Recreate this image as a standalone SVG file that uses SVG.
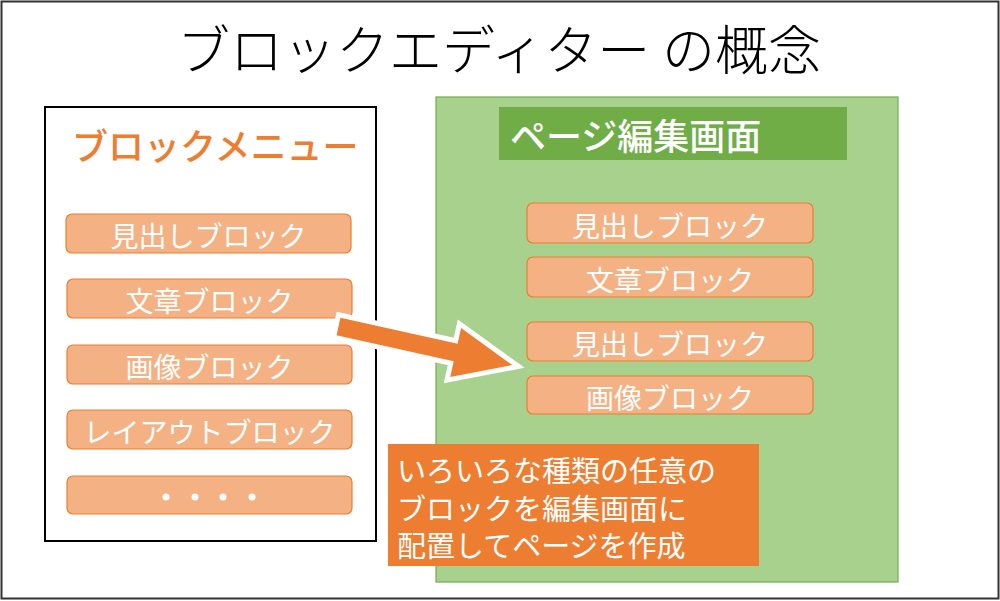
<svg xmlns="http://www.w3.org/2000/svg" width="1000" height="601" viewBox="0 0 1000 601">
<style>
text{font-family:"Noto Sans CJK JP","Noto Sans",sans-serif;}
.blk{fill:#F4B183;stroke:#ED7D31;stroke-width:1.2;}
.bt{fill:#fff;font-size:28px;text-anchor:middle;}
</style>
<rect x="0" y="0" width="1000" height="601" fill="#fff"/>
<rect x="1.5" y="1.5" width="997" height="597" fill="none" stroke="#333" stroke-width="2"/>
<g id="title"><text x="499" y="70" font-size="53" font-weight="300" text-anchor="middle" fill="#000">ブロックエディター の概念</text></g>
<g id="menu">
<rect x="45" y="107" width="331" height="434" fill="#fff" stroke="#000" stroke-width="2"/>
<text x="72" y="160" font-size="36" font-weight="500" fill="#ED7D31">ブロックメニュー</text>
</g>
<g id="m1"><rect class="blk" x="66" y="214" width="285" height="39" rx="6"/><text class="bt" x="208.5" y="247">見出しブロック</text></g>
<g id="m2"><rect class="blk" x="67" y="279" width="285" height="39" rx="6"/><text class="bt" x="209.5" y="312">文章ブロック</text></g>
<g id="m3"><rect class="blk" x="67" y="345" width="285" height="39" rx="6"/><text class="bt" x="209.5" y="378">画像ブロック</text></g>
<g id="m4"><rect class="blk" x="67" y="410" width="285" height="39" rx="6"/><text class="bt" x="209.5" y="443">レイアウトブロック</text></g>
<g id="m5"><rect class="blk" x="67" y="476" width="285" height="38" rx="6"/>
<g fill="#fff"><circle cx="166" cy="497" r="3.5"/><circle cx="195" cy="497" r="3.5"/><circle cx="223" cy="497" r="3.5"/><circle cx="252" cy="497" r="3.5"/></g></g>
<g id="page">
<rect x="436" y="97" width="462" height="485" fill="#A9D18E" stroke="#70AD47" stroke-width="1.2"/>
<rect x="499" y="107" width="348" height="53" fill="#70AD47"/>
<text x="510" y="150" font-size="36" font-weight="500" fill="#fff">ページ編集画面</text>
</g>
<g id="p1"><rect class="blk" x="527" y="203" width="286" height="40" rx="6"/><text class="bt" x="670" y="237">見出しブロック</text></g>
<g id="p2"><rect class="blk" x="527" y="257" width="286" height="40" rx="6"/><text class="bt" x="670" y="291">文章ブロック</text></g>
<g id="p3"><rect class="blk" x="527" y="322" width="286" height="39" rx="6"/><text class="bt" x="670" y="355">見出しブロック</text></g>
<g id="p4"><rect class="blk" x="527" y="376" width="286" height="38" rx="6"/><text class="bt" x="670" y="409">画像ブロック</text></g>
<g id="connectors">
<polygon points="0,-9 120,-9 120,-25 178,0 120,25 120,9 0,9" transform="translate(338.5,326.5) rotate(12.5)" fill="#ED7D31" stroke="#fff" stroke-width="10" stroke-linejoin="miter" stroke-miterlimit="10" paint-order="stroke"/>
</g>
<g id="note">
<rect x="388" y="444" width="371" height="122" fill="#ED7D31"/>
<text font-size="29" fill="#fff"><tspan x="397" y="482">いろいろな種類の任意の</tspan><tspan x="397" y="520">ブロックを編集画面に</tspan><tspan x="397" y="557">配置してページを作成</tspan></text>
</g>
</svg>
